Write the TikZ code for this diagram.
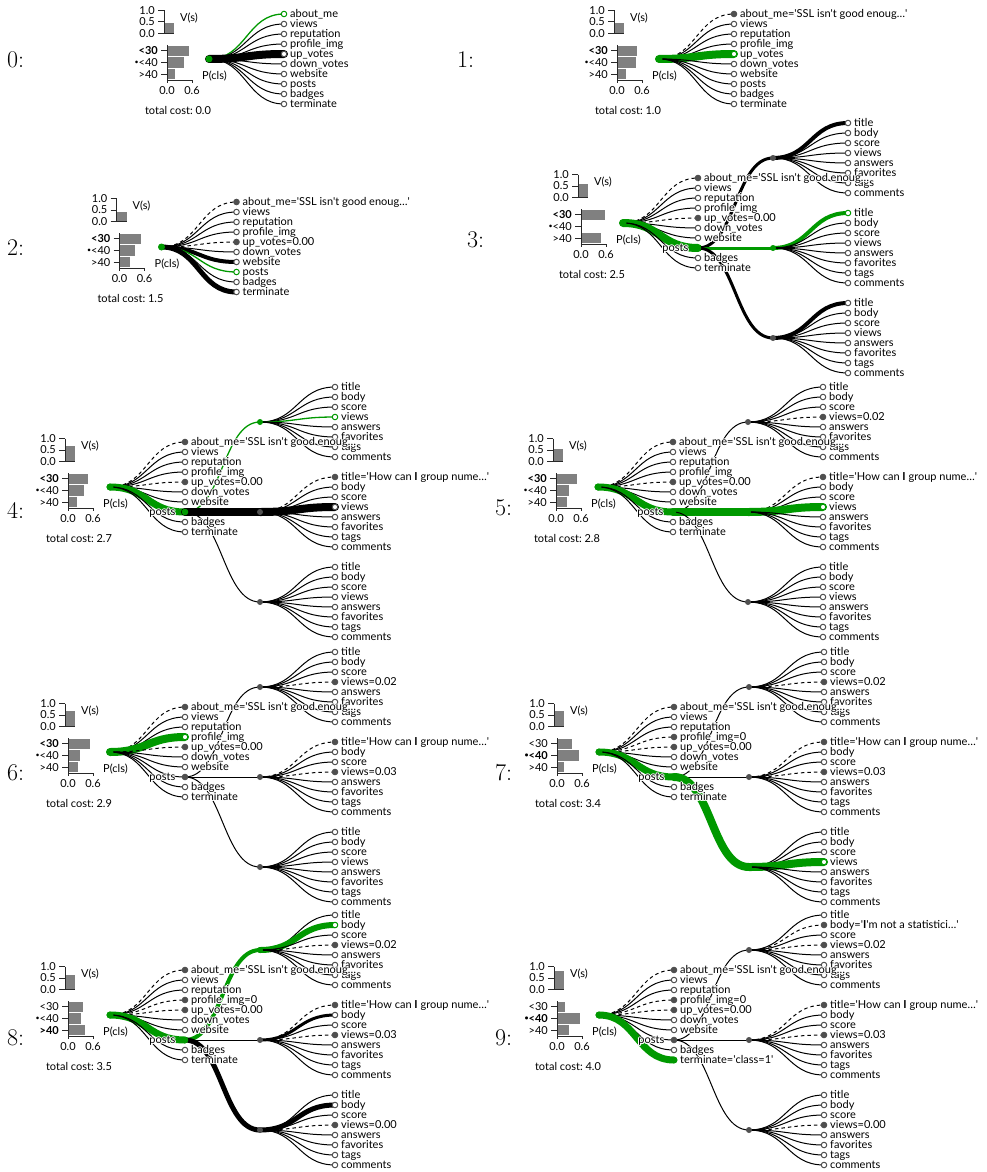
\documentclass[tikz,border=0pt]{standalone}
\usepackage{fontspec}
\usetikzlibrary{calc}
\newfontfamily\lato{Lato}
\definecolor{G}{RGB}{0,153,0}
\definecolor{nd}{RGB}{80,80,80}
\definecolor{axc}{RGB}{40,40,40}
\definecolor{barc}{RGB}{128,128,128}
\newcommand\lf{\lato\fontsize{11}{13}\selectfont}
\newsavebox\hlbox
\newcommand\hlc[2]{\rlap{\kern#1\raisebox{#2}{\copy\hlbox}}}
\newcommand\hl[1]{\setbox\hlbox\hbox{#1}\rlap{\color{white}\hlc{-1.1pt}{0pt}\hlc{1.1pt}{0pt}\hlc{0pt}{1.1pt}\hlc{0pt}{-1.1pt}\hlc{.8pt}{.8pt}\hlc{-.8pt}{.8pt}\hlc{.8pt}{-.8pt}\hlc{-.8pt}{-.8pt}}\copy\hlbox}
\newcommand\q{\textquotesingle}
\newcommand\AB{about\_me=\q SSL isn\q t good enoug…\q}
\newcommand\TT{title=\q How can \textbf{I} group nume…\q}
\newcommand\BB{body=\q\textbf{I}\q m not a statistici…\q}
\newcommand\bul{\raisebox{1.6pt}{\fontsize{7}{7}\selectfont •}}
\newcommand\lkdraw[3]{\draw[#1] (#2) .. controls ($(#2)!0.5!(#2-|#3)$) and ($(#3)!0.5!(#3-|#2)$) .. (#3);}
\newcommand\lk[3]{\edef\lkopt{#3}\expandafter\lkdraw\expandafter{\lkopt}{#1}{#2}}
\newcommand\ndraw[3]{\node[#1] (#2) at (#3) {};}
\newcommand\nd[3]{\edef\ndopt{#1}\expandafter\ndraw\expandafter{\ndopt}{#2}{#3}}
\newcommand\lb[2]{\node[lab] (T#1) at (#1) {\hl{#2}};}
\tikzset{
 eN/.style={line width=1pt},
 eD/.style={line width=1pt, dash pattern=on 3.5pt off 3pt},
 eg/.style={line width=1.3pt, draw=G},
 eK3/.style={line width=3pt, line cap=round},
 eK4/.style={line width=4pt, line cap=round},
 eK5/.style={line width=5pt, line cap=round},
 eK8/.style={line width=8pt, line cap=round},
 eG3/.style={line width=3pt, line cap=round, draw=G},
 eG4/.style={line width=4pt, line cap=round, draw=G},
 eG6/.style={line width=6pt, line cap=round, draw=G},
 eG7/.style={line width=7pt, line cap=round, draw=G},
 eG8/.style={line width=8pt, line cap=round, draw=G},
 nO/.style={circle, inner sep=0, minimum size=5.5pt, draw=nd, fill=white, line width=1pt},
 nF/.style={nO, fill=nd},
 ng/.style={nO, draw=G},
 nG/.style={nO, draw=G, fill=G},
 nS/.style={circle, inner sep=0, minimum size=6pt, fill=nd},
 nSG/.style={nS, fill=G},
 nR/.style={circle, inner sep=0, minimum size=7pt, fill=G},
 ax/.style={draw=axc, line width=1pt},
 tl/.style={anchor=base east, inner sep=0, yshift=-3.8pt, font=\lf},
 tc/.style={anchor=base, inner sep=0, yshift=-3.8pt, font=\lf},
 lab/.style={anchor=base west, inner sep=0, xshift=6pt, yshift=-3.8pt, font=\lf},
 lab0/.style={anchor=base west, inner sep=0, yshift=-3.8pt, font=\lf},
 labl/.style={anchor=base east, inner sep=0, xshift=-9.5pt, yshift=-3.8pt, font=\lf},
 num/.style={anchor=west, inner sep=0, font=\fontsize{24}{24}\selectfont},
}
\newcommand\chart[6]{%
 \fill[barc] (-45,-25.5) rectangle (-35,{-25.5-#1});
 \draw[ax] (-45,-48.5) -- (-45,-25.5) -- (-35,-25.5);
 \draw[ax] (-51,-48.5) -- (-45,-48.5) (-51,-37) -- (-45,-37) (-51,-25.5) -- (-45,-25.5);
 \node[tl] (Va) at (-54,-48.5) {1.0};
 \node[tl] (Vb) at (-54,-37) {0.5};
 \node[tl] (Vc) at (-54,-25.5) {0.0};
 \node[lab0] (Vl) at (-29,-41) {V(s)};
 \fill[barc] (-42,-13.4) rectangle ({-42+#2},-2.9);
 \fill[barc] (-42,-1.8) rectangle ({-42+#3},8.7);
 \fill[barc] (-42,9.9) rectangle ({-42+#4},20.4);
 \draw[ax] (-42,-14) -- (-42,21) -- (-17,21);
 \draw[ax] (-48,-8.2) -- (-42,-8.2) (-48,3.5) -- (-42,3.5) (-48,15.2) -- (-42,15.2) (-42,21) -- (-42,24) (-17,21) -- (-17,24);
 \node[tl] (Pa) at (-51,-8.2) {\ifnum#5=1 \bfseries\fi <30};
 \node[tl] (Pb) at (-51,3.5) {\ifnum#5=2 \bfseries\fi \bul<40};
 \node[tl] (Pc) at (-51,15.2) {\ifnum#5=3 \bfseries\fi >40};
 \node[tc] (Xa) at (-42,32) {0.0};
 \node[tc] (Xb) at (-17,32) {0.6};
 \node[lab0] (Pl) at (-7,17) {P(cls)};
 \node[tc] (Tc) at (-31,52) {total cost:\ #6};
}
\newcommand\coords{%
 \coordinate (R) at (0,0);
 \foreach \i in {1,...,10}{\coordinate (C\i) at (75,{10*\i-55});}
 \foreach \j/\sy in {1/-65,2/25,3/115}{\coordinate (S\j) at (150,\sy);
   \foreach \kk in {1,...,8}{\coordinate (L\j\kk) at (225,{\sy+10*\kk-45});}}
}
\newcommand\drawtree[1]{%
 \foreach \i/\ee/\nn/\tx in \kidlist {\lk{R}{C\i}{\ee}}
 \ifnum#1=1
  \lk{C8}{S1}{\pea}\lk{C8}{S2}{\peb}\lk{C8}{S3}{\pec}
  \foreach \kk/\ee/\nn/\tx in \lva {\lk{S1}{L1\kk}{\ee}}
  \foreach \kk/\ee/\nn/\tx in \lvb {\lk{S2}{L2\kk}{\ee}}
  \foreach \kk/\ee/\nn/\tx in \lvc {\lk{S3}{L3\kk}{\ee}}
  \foreach \kk/\ee/\nn/\tx in \lva {\nd{\nn}{M1\kk}{L1\kk}\lb{L1\kk}{\tx}}
  \foreach \kk/\ee/\nn/\tx in \lvb {\nd{\nn}{M2\kk}{L2\kk}\lb{L2\kk}{\tx}}
  \foreach \kk/\ee/\nn/\tx in \lvc {\nd{\nn}{M3\kk}{L3\kk}\lb{L3\kk}{\tx}}
 \fi
 \foreach \i/\ee/\nn/\tx in \kidlist {\nd{\nn}{N\i}{C\i}\lb{C\i}{\tx}}
 \ifnum#1=1
  \nd{\sa}{Q1}{S1}\nd{\sb}{Q2}{S2}\nd{\sc}{Q3}{S3}
  \node[labl] (TP) at (C8) {\hl{posts}};
 \fi
 \node[nR] (NR) at (R) {};
}
\def\dl{1/eN/nO/title,2/eN/nO/body,3/eN/nO/score,4/eN/nO/views,5/eN/nO/answers,6/eN/nO/favorites,7/eN/nO/tags,8/eN/nO/comments}
\begin{document}
\begin{tikzpicture}[x=1pt,y=-1pt]
\fill[white] (0,0) rectangle (987,1172);
\useasboundingbox (0,0) rectangle (987,1172);
\node[num] (n0) at (7,60) {0:};
\node[num] (n1) at (457,60) {1:};
\node[num] (n2) at (7,248) {2:};
\node[num] (n3) at (467,240) {3:};
\node[num] (n4) at (7,510) {4:};
\node[num] (n5) at (495,508) {5:};
\node[num] (n6) at (7,773) {6:};
\node[num] (n7) at (495,773) {7:};
\node[num] (n8) at (7,1038) {8:};
\node[num] (n9) at (495,1038) {9:};
% ---- panel 0
\begin{scope}[shift={(209,59)}]
\chart{10}{22.3}{17.3}{8.3}{1}{0.0}
\coords
\def\kidlist{1/eg/ng/{about\_me},2/eN/nO/views,3/eN/nO/reputation,4/eN/nO/{profile\_img},5/eK8/nO/{up\_votes},6/eN/nO/{down\_votes},7/eN/nO/website,8/eN/nO/posts,9/eN/nO/badges,10/eN/nO/terminate}
\drawtree{0}
\end{scope}
% ---- panel 1
\begin{scope}[shift={(659,59)}]
\chart{10}{20}{18.7}{9.3}{1}{1.0}
\coords
\def\kidlist{1/eD/nF/\AB,2/eN/nO/views,3/eN/nO/reputation,4/eN/nO/{profile\_img},5/eG8/ng/{up\_votes},6/eN/nO/{down\_votes},7/eN/nO/website,8/eN/nO/posts,9/eN/nO/badges,10/eN/nO/terminate}
\drawtree{0}
\end{scope}
% ---- panel 2
\begin{scope}[shift={(161.5,247)}]
\chart{10}{21.7}{15}{10.3}{1}{1.5}
\coords
\def\kidlist{1/eD/nF/\AB,2/eN/nO/views,3/eN/nO/reputation,4/eN/nO/{profile\_img},5/eD/nF/{up\_votes=0.00},6/eN/nO/{down\_votes},7/eK4/nO/website,8/eg/ng/posts,9/eN/nO/badges,10/eK5/nO/terminate}
\drawtree{0}
\end{scope}
% ---- panel 3
\begin{scope}[shift={(623,223)}]
\chart{14}{24.3}{0}{20}{1}{2.5}
\coords
\def\kidlist{1/eD/nF/\AB,2/eN/nO/views,3/eN/nO/reputation,4/eN/nO/{profile\_img},5/eD/nF/{up\_votes=0.00},6/eN/nO/{down\_votes},7/eN/nO/website,8/eG8/nG/{},9/eN/nO/badges,10/eN/nO/terminate}
\def\pea{eK3}\def\peb{eG3}\def\pec{eK3}\def\sa{nS}\def\sb{nSG}\def\sc{nS}
\def\lva{1/eK4/nO/title,2/eN/nO/body,3/eN/nO/score,4/eN/nO/views,5/eN/nO/answers,6/eN/nO/favorites,7/eN/nO/tags,8/eN/nO/comments}
\def\lvb{1/eG4/ng/title,2/eN/nO/body,3/eN/nO/score,4/eN/nO/views,5/eN/nO/answers,6/eN/nO/favorites,7/eN/nO/tags,8/eN/nO/comments}
\def\lvc{1/eK4/nO/title,2/eN/nO/body,3/eN/nO/score,4/eN/nO/views,5/eN/nO/answers,6/eN/nO/favorites,7/eN/nO/tags,8/eN/nO/comments}
\drawtree{1}
\end{scope}
% ---- panel 4
\begin{scope}[shift={(110,487)}]
\chart{15.3}{20}{16.3}{9}{1}{2.7}
\coords
\def\kidlist{1/eD/nF/\AB,2/eN/nO/views,3/eN/nO/reputation,4/eN/nO/{profile\_img},5/eD/nF/{up\_votes=0.00},6/eN/nO/{down\_votes},7/eN/nO/website,8/eG7/nG/{},9/eN/nO/badges,10/eN/nO/terminate}
\def\pea{eg}\def\peb{eK8}\def\pec{eN}\def\sa{nSG}\def\sb{nS}\def\sc{nS}
\def\lva{1/eN/nO/title,2/eN/nO/body,3/eN/nO/score,4/eg/ng/views,5/eN/nO/answers,6/eN/nO/favorites,7/eN/nO/tags,8/eN/nO/comments}
\def\lvb{1/eD/nF/\TT,2/eN/nO/body,3/eN/nO/score,4/eK8/nO/views,5/eN/nO/answers,6/eN/nO/favorites,7/eN/nO/tags,8/eN/nO/comments}
\let\lvc\dl
\drawtree{1}
\end{scope}
% ---- panel 5
\begin{scope}[shift={(598,487)}]
\chart{13}{21}{13.3}{11}{1}{2.8}
\coords
\def\kidlist{1/eD/nF/\AB,2/eN/nO/views,3/eN/nO/reputation,4/eN/nO/{profile\_img},5/eD/nF/{up\_votes=0.00},6/eN/nO/{down\_votes},7/eN/nO/website,8/eG7/nG/{},9/eN/nO/badges,10/eN/nO/terminate}
\def\pea{eN}\def\peb{eG8}\def\pec{eN}\def\sa{nS}\def\sb{nSG}\def\sc{nS}
\def\lva{1/eN/nO/title,2/eN/nO/body,3/eN/nO/score,4/eD/nF/{views=0.02},5/eN/nO/answers,6/eN/nO/favorites,7/eN/nO/tags,8/eN/nO/comments}
\def\lvb{1/eD/nF/\TT,2/eN/nO/body,3/eN/nO/score,4/eG8/ng/views,5/eN/nO/answers,6/eN/nO/favorites,7/eN/nO/tags,8/eN/nO/comments}
\let\lvc\dl
\drawtree{1}
\end{scope}
% ---- panel 6
\begin{scope}[shift={(110,752)}]
\chart{15.3}{22.3}{12.3}{10}{1}{2.9}
\coords
\def\kidlist{1/eD/nF/\AB,2/eN/nO/views,3/eN/nO/reputation,4/eG8/ng/{profile\_img},5/eD/nF/{up\_votes=0.00},6/eN/nO/{down\_votes},7/eN/nO/website,8/eN/nF/{},9/eN/nO/badges,10/eN/nO/terminate}
\def\pea{eN}\def\peb{eN}\def\pec{eN}\def\sa{nS}\def\sb{nS}\def\sc{nS}
\def\lva{1/eN/nO/title,2/eN/nO/body,3/eN/nO/score,4/eD/nF/{views=0.02},5/eN/nO/answers,6/eN/nO/favorites,7/eN/nO/tags,8/eN/nO/comments}
\def\lvb{1/eD/nF/\TT,2/eN/nO/body,3/eN/nO/score,4/eD/nF/{views=0.03},5/eN/nO/answers,6/eN/nO/favorites,7/eN/nO/tags,8/eN/nO/comments}
\let\lvc\dl
\drawtree{1}
\end{scope}
% ---- panel 7
\begin{scope}[shift={(599,752)}]
\chart{16}{15}{22.3}{7.3}{2}{3.4}
\coords
\def\kidlist{1/eD/nF/\AB,2/eN/nO/views,3/eN/nO/reputation,4/eD/nF/{profile\_img=0},5/eD/nF/{up\_votes=0.00},6/eN/nO/{down\_votes},7/eN/nO/website,8/eG7/nG/{},9/eN/nO/badges,10/eN/nO/terminate}
\def\pea{eN}\def\peb{eN}\def\pec{eG8}\def\sa{nS}\def\sb{nS}\def\sc{nSG}
\def\lva{1/eN/nO/title,2/eN/nO/body,3/eN/nO/score,4/eD/nF/{views=0.02},5/eN/nO/answers,6/eN/nO/favorites,7/eN/nO/tags,8/eN/nO/comments}
\def\lvb{1/eD/nF/\TT,2/eN/nO/body,3/eN/nO/score,4/eD/nF/{views=0.03},5/eN/nO/answers,6/eN/nO/favorites,7/eN/nO/tags,8/eN/nO/comments}
\def\lvc{1/eN/nO/title,2/eN/nO/body,3/eN/nO/score,4/eG8/ng/views,5/eN/nO/answers,6/eN/nO/favorites,7/eN/nO/tags,8/eN/nO/comments}
\drawtree{1}
\end{scope}
% ---- panel 8
\begin{scope}[shift={(110,1015)}]
\chart{15}{15}{13.3}{17.3}{3}{3.5}
\coords
\def\kidlist{1/eD/nF/\AB,2/eN/nO/views,3/eN/nO/reputation,4/eD/nF/{profile\_img=0},5/eD/nF/{up\_votes=0.00},6/eN/nO/{down\_votes},7/eN/nO/website,8/eG7/nG/{},9/eN/nO/badges,10/eN/nO/terminate}
\def\pea{eG4}\def\peb{eN}\def\pec{eK5}\def\sa{nSG}\def\sb{nS}\def\sc{nS}
\def\lva{1/eN/nO/title,2/eG6/ng/body,3/eN/nO/score,4/eD/nF/{views=0.02},5/eN/nO/answers,6/eN/nO/favorites,7/eN/nO/tags,8/eN/nO/comments}
\def\lvb{1/eD/nF/\TT,2/eK3/nO/body,3/eN/nO/score,4/eD/nF/{views=0.03},5/eN/nO/answers,6/eN/nO/favorites,7/eN/nO/tags,8/eN/nO/comments}
\def\lvc{1/eN/nO/title,2/eK5/nO/body,3/eN/nO/score,4/eD/nF/{views=0.00},5/eN/nO/answers,6/eN/nO/favorites,7/eN/nO/tags,8/eN/nO/comments}
\drawtree{1}
\end{scope}
% ---- panel 9
\begin{scope}[shift={(599,1015)}]
\chart{18.5}{8.3}{23.3}{12.3}{2}{4.0}
\coords
\def\kidlist{1/eD/nF/\AB,2/eN/nO/views,3/eN/nO/reputation,4/eD/nF/{profile\_img=0},5/eD/nF/{up\_votes=0.00},6/eN/nO/{down\_votes},7/eN/nO/website,8/eN/nF/{},9/eN/nO/badges,10/eG7/nG/{terminate=\q class=1\q}}
\def\pea{eN}\def\peb{eN}\def\pec{eN}\def\sa{nS}\def\sb{nS}\def\sc{nS}
\def\lva{1/eN/nO/title,2/eD/nF/\BB,3/eN/nO/score,4/eD/nF/{views=0.02},5/eN/nO/answers,6/eN/nO/favorites,7/eN/nO/tags,8/eN/nO/comments}
\def\lvb{1/eD/nF/\TT,2/eN/nO/body,3/eN/nO/score,4/eD/nF/{views=0.03},5/eN/nO/answers,6/eN/nO/favorites,7/eN/nO/tags,8/eN/nO/comments}
\def\lvc{1/eN/nO/title,2/eN/nO/body,3/eN/nO/score,4/eD/nF/{views=0.00},5/eN/nO/answers,6/eN/nO/favorites,7/eN/nO/tags,8/eN/nO/comments}
\drawtree{1}
\end{scope}
\end{tikzpicture}
\end{document}
